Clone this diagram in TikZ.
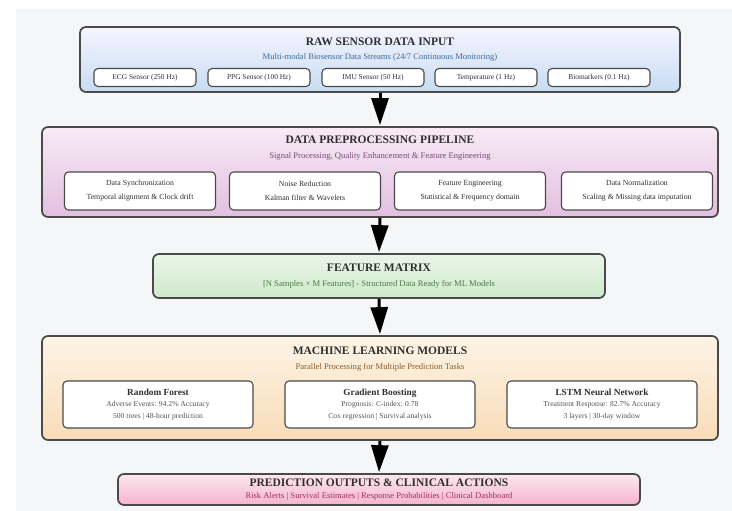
\documentclass[tikz,border=0pt]{standalone}
\usepackage{fontspec}
\setmainfont{Liberation Serif}
\usetikzlibrary{arrows.meta}
\definecolor{bgc}{HTML}{F4F6F8}
\definecolor{bordc}{HTML}{4A4A4A}
\definecolor{titc}{HTML}{2F2F2F}
\definecolor{subA}{HTML}{3D6A9E}
\definecolor{subB}{HTML}{7A4A7A}
\definecolor{subC}{HTML}{4A7A4A}
\definecolor{subD}{HTML}{8B5A2B}
\definecolor{subE}{HTML}{A03060}
\definecolor{grayt}{HTML}{555555}
\tikzset{
  mainbox/.style={draw=bordc, line width=1.7pt, rounded corners=6pt, inner sep=0pt},
  smallbox/.style={draw=bordc, line width=1.1pt, rounded corners=4pt, fill=white, inner sep=1pt, align=center, text=titc},
  titletext/.style={font=\fontsize{11.5}{13}\selectfont\bfseries, text=titc, inner sep=0pt},
  subtext/.style={font=\fontsize{8.6}{10}\selectfont, inner sep=0pt},
  flowarrow/.style={draw=black, line width=3pt, -{Triangle[width=17pt,length=27pt]}, shorten >=1pt},
}
\begin{document}
\begin{tikzpicture}[x=1pt,y=-1pt]
\useasboundingbox (0,0) rectangle (732,511);
\fill[bgc] (16,9) rectangle (732,511);

% Box 1
\node[mainbox, top color=blue!4!white, bottom color={rgb,255:red,199;green,220;blue,242}, minimum width=600pt, minimum height=65pt] (raw) at (380,59.5) {};
\node[titletext] (rawt) at (380,42) {RAW SENSOR DATA INPUT};
\node[subtext, text=subA] (raws) at (380,57) {Multi-modal Biosensor Data Streams (24/7 Continuous Monitoring)};
\foreach \n/\x/\t in {ecg/145/{ECG Sensor (250 Hz)}, ppg/259/{PPG Sensor (100 Hz)}, imu/373/{IMU Sensor (50 Hz)}, tmp/486/{Temperature (1 Hz)}, bio/599/{Biomarkers (0.1 Hz)}}{
  \node[smallbox, minimum width=102pt, minimum height=18pt, font=\fontsize{7.4}{8}\selectfont] (\n) at (\x,77.5) {\t};
}

% Box 2
\node[mainbox, top color={rgb,255:red,247;green,234;blue,245}, bottom color={rgb,255:red,226;green,191;blue,223}, minimum width=676pt, minimum height=90pt] (prep) at (380,172) {};
\node[titletext] (prept) at (380,140) {DATA PREPROCESSING PIPELINE};
\node[subtext, text=subB] (preps) at (380,156.5) {Signal Processing, Quality Enhancement \& Feature Engineering};
\foreach \n/\x/\a/\b in {syn/140/{Data Synchronization}/{Temporal alignment \& Clock drift}, noi/305/{Noise Reduction}/{Kalman filter \& Wavelets}, fea/470/{Feature Engineering}/{Statistical \& Frequency domain}, nor/637/{Data Normalization}/{Scaling \& Missing data imputation}}{
  \node[smallbox, minimum width=151pt, minimum height=38pt, font=\fontsize{7.8}{14}\selectfont] (\n) at (\x,191) {\a\\\b};
}

% Box 3
\node[mainbox, top color={rgb,255:red,234;green,246;blue,232}, bottom color={rgb,255:red,206;green,232;blue,203}, minimum width=452pt, minimum height=44pt] (feat) at (379,276) {};
\node[titletext] (featt) at (379,268) {FEATURE MATRIX};
\node[subtext, text=subC] (feats) at (379,284.5) {[N Samples × M Features] - Structured Data Ready for ML Models};

% Box 4
\node[mainbox, top color={rgb,255:red,253;green,244;blue,230}, bottom color={rgb,255:red,248;green,220;blue,184}, minimum width=676pt, minimum height=104pt] (ml) at (380,388) {};
\node[titletext] (mlt) at (380,351) {MACHINE LEARNING MODELS};
\node[subtext, text=subD] (mls) at (380,367) {Parallel Processing for Multiple Prediction Tasks};
\foreach \n/\x/\a/\b/\c in {rf/158/{Random Forest}/{Adverse Events: 94.2\% Accuracy}/{500 trees | 48-hour prediction}, gb/380/{Gradient Boosting}/{Prognosis: C-index: 0.78}/{Cox regression | Survival analysis}, ls/602/{LSTM Neural Network}/{Treatment Response: 82.7\% Accuracy}/{3 layers | 30-day window}}{
  \node[smallbox, minimum width=190pt, minimum height=47pt, font=\fontsize{7.6}{11.5}\selectfont] (\n) at (\x,404.5) {{\fontsize{9.3}{11.5}\selectfont\bfseries \a}\\\textcolor{grayt}{\b}\\\textcolor{grayt}{\c}};
}

% Box 5
\node[mainbox, top color={rgb,255:red,253;green,232;blue,240}, bottom color={rgb,255:red,245;green,179;blue,203}, minimum width=522pt, minimum height=31pt] (out) at (379,489.5) {};
\node[titletext] (outt) at (379,483) {PREDICTION OUTPUTS \& CLINICAL ACTIONS};
\node[subtext, text=subE] (outs) at (379,496.5) {Risk Alerts | Survival Estimates | Response Probabilities | Clinical Dashboard};

% Arrows
\draw[flowarrow] (raw.south) -- (prep.north);
\draw[flowarrow] (prep.south) -- (feat.north);
\draw[flowarrow] (feat.south) -- (ml.north);
\draw[flowarrow] (ml.south) -- (out.north);
\end{tikzpicture}
\end{document}
